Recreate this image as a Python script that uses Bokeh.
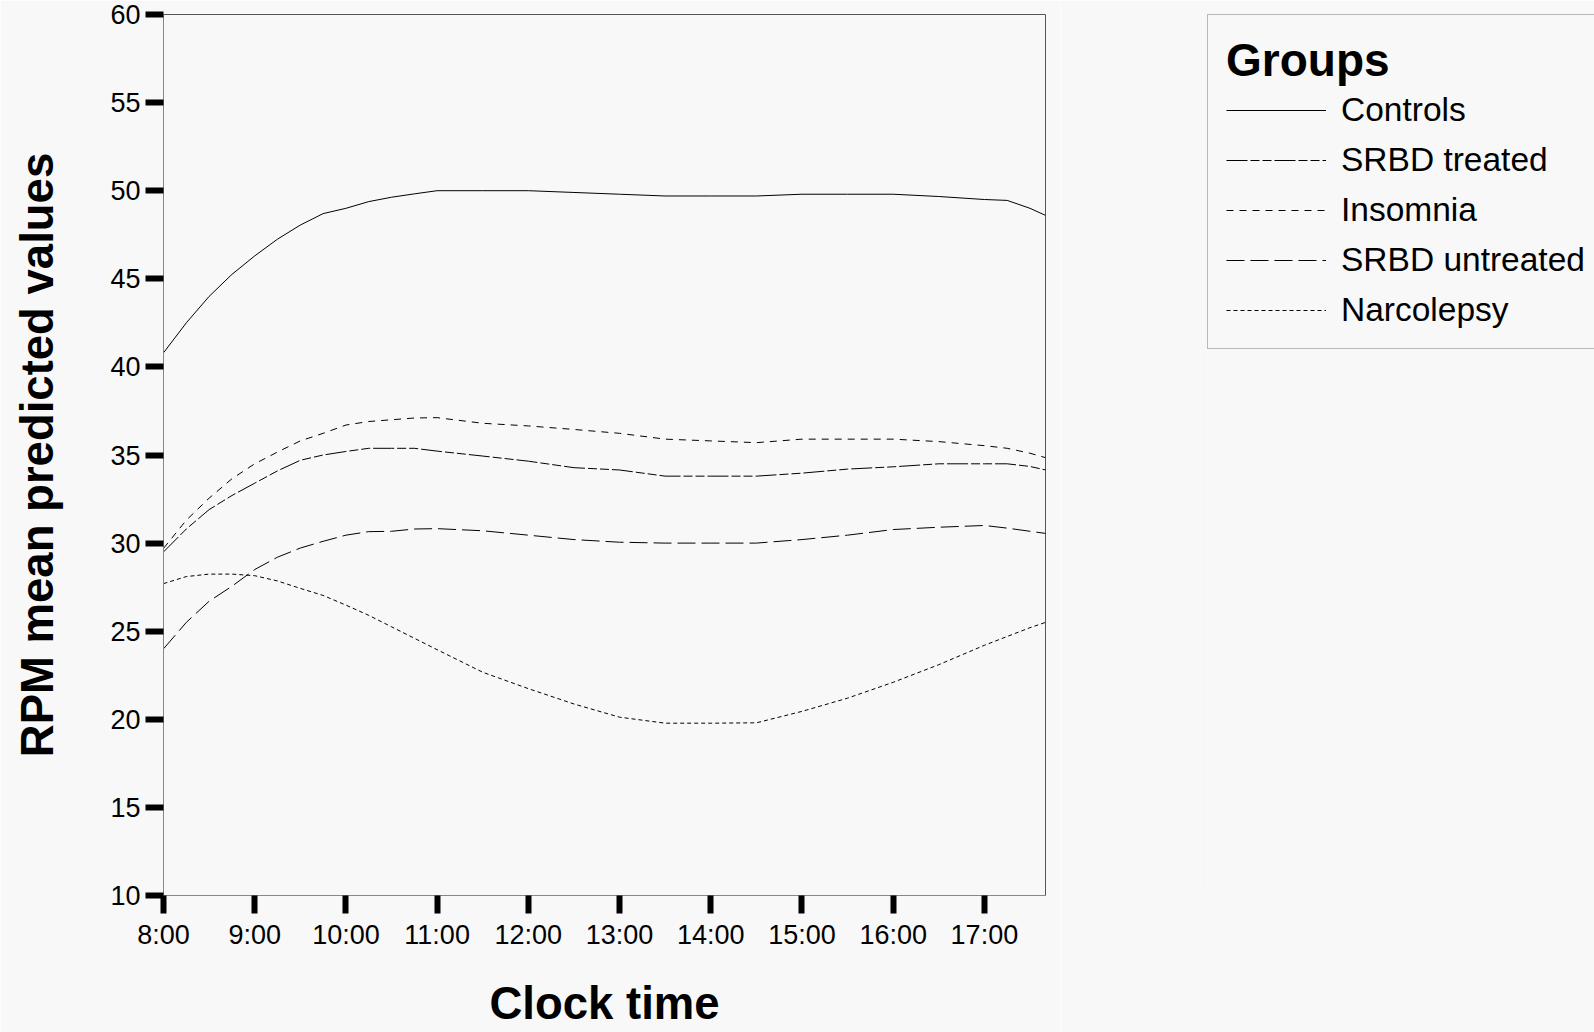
from bokeh.plotting import figure
from bokeh.layouts import row
from bokeh.models import FixedTicker, Legend, LegendItem, Range1d
from bokeh.embed import file_html
from bokeh.resources import INLINE

# ---- data ----
hours = [8.0, 8.25, 8.5, 8.75, 9.0, 9.25, 9.5, 9.75, 10.0, 10.25, 10.5, 10.75,
         11.0, 11.5, 12.0, 12.5, 13.0, 13.5, 14.0, 14.5, 15.0, 15.5, 16.0, 16.5,
         17.0, 17.25, 17.5, 17.67]

controls = [40.8, 42.5, 44.0, 45.25, 46.3, 47.25, 48.05, 48.7, 49.0, 49.38, 49.63, 49.82,
            50.0, 50.0, 50.0, 49.9, 49.8, 49.7, 49.7, 49.7, 49.8, 49.8, 49.8, 49.67,
            49.5, 49.45, 49.0, 48.6]

srbd_treated = [29.5, 30.8, 31.9, 32.7, 33.4, 34.1, 34.7, 35.0, 35.2, 35.38, 35.38, 35.38,
                35.22, 34.94, 34.65, 34.28, 34.15, 33.8, 33.8, 33.8, 33.97, 34.2, 34.33, 34.5,
                34.5, 34.5, 34.35, 34.15]

insomnia = [29.7, 31.3, 32.55, 33.65, 34.5, 35.17, 35.8, 36.23, 36.7, 36.9, 37.0, 37.1,
            37.12, 36.8, 36.65, 36.45, 36.23, 35.9, 35.8, 35.7, 35.9, 35.9, 35.9, 35.76,
            35.53, 35.38, 35.1, 34.85]

srbd_untreated = [24.0, 25.5, 26.7, 27.55, 28.5, 29.2, 29.72, 30.1, 30.45, 30.65, 30.67, 30.8,
                  30.82, 30.7, 30.45, 30.2, 30.05, 30.0, 30.0, 30.0, 30.2, 30.45, 30.77, 30.9,
                  31.0, 30.85, 30.67, 30.55]

narcolepsy = [27.7, 28.1, 28.24, 28.24, 28.15, 27.85, 27.43, 27.03, 26.48, 25.9, 25.25, 24.6,
              23.95, 22.67, 21.74, 20.87, 20.12, 19.78, 19.78, 19.8, 20.45, 21.2, 22.1, 23.1,
              24.2, 24.7, 25.2, 25.5]

group_names = ["Controls", "SRBD treated", "Insomnia", "SRBD untreated", "Narcolepsy"]
tick_hours = [8, 9, 10, 11, 12, 13, 14, 15, 16, 17]
tick_labels = ["8:00", "9:00", "10:00", "11:00", "12:00", "13:00", "14:00", "15:00", "16:00", "17:00"]
y_ticks = [10, 15, 20, 25, 30, 35, 40, 45, 50, 55, 60]

# ---- styling ----
BG = "#f8f8f8"
FONT = "Liberation Sans"
series = [controls, srbd_treated, insomnia, srbd_untreated, narcolepsy]
dashes = ["solid", "21 3 9 3 9 3", "7 6", "18 6", "4 3"]

W_MAIN = 1060
p = figure(width=W_MAIN, height=1032,
           x_range=Range1d(8, 17.67), y_range=Range1d(10, 60),
           output_backend="svg", toolbar_location=None,
           min_border_left=163, min_border_right=15,
           min_border_top=14, min_border_bottom=137)

p.background_fill_color = BG
p.border_fill_color = BG
p.outline_line_color = "#555555"
p.outline_line_width = 1
p.xgrid.visible = False
p.ygrid.visible = False

p.xaxis.ticker = FixedTicker(ticks=tick_hours)
p.xaxis.major_label_overrides = {h: lab for h, lab in zip(tick_hours, tick_labels)}
p.yaxis.ticker = FixedTicker(ticks=y_ticks)

for ax in (p.xaxis[0], p.yaxis[0]):
    ax.axis_line_color = "#888888"
    ax.axis_line_width = 1
    ax.major_tick_line_color = "black"
    ax.major_tick_line_width = 6
    ax.major_tick_out = 18
    ax.major_tick_in = 0
    ax.minor_tick_line_color = None
    ax.major_label_text_font = FONT
    ax.major_label_text_font_size = "27px"
    ax.major_label_text_color = "black"
    ax.axis_label_text_font = FONT
    ax.axis_label_text_font_size = "45.5px"
    ax.axis_label_text_font_style = "bold"
    ax.axis_label_text_color = "black"

p.xaxis.axis_label = "Clock time"
p.yaxis.axis_label = "RPM mean predicted values"
p.xaxis.major_label_standoff = 6
p.yaxis.major_label_standoff = 5
p.xaxis.axis_label_standoff = 25
p.yaxis.axis_label_standoff = 44

for vals, dash in zip(series, dashes):
    p.line(hours, vals, line_color="black", line_width=1, line_dash=dash)

# ---- legend panel (separate figure to the right of the plot) ----
leg = figure(width=1594 - W_MAIN, height=1032,
             x_range=Range1d(0, 1), y_range=Range1d(0, 1),
             output_backend="svg", toolbar_location=None,
             x_axis_location=None, y_axis_location=None,
             min_border_left=147, min_border_top=13,
             min_border_right=0, min_border_bottom=0)
leg.background_fill_color = BG
leg.border_fill_color = BG
leg.outline_line_color = None
leg.grid.visible = False

items = []
for name, vals, dash in zip(group_names, series, dashes):
    # same series, drawn outside this panel's ranges: only the legend sample shows
    r = leg.line(hours, vals, line_color="black", line_width=1, line_dash=dash)
    items.append(LegendItem(label=name, renderers=[r]))

legend = Legend(items=items, location="top_left",
                title="Groups", title_text_font=FONT, title_text_font_size="46px",
                title_text_font_style="bold", title_text_color="black", title_standoff=3,
                label_text_font=FONT, label_text_font_size="33.5px", label_text_color="black",
                glyph_width=100, glyph_height=40, label_height=40, label_standoff=15,
                spacing=10, padding=18, margin=0,
                border_line_color="#777777", border_line_width=1,
                background_fill_color=BG, background_fill_alpha=1.0)
leg.add_layout(legend)

open("out.html", "w").write(file_html(row(p, leg), INLINE))
